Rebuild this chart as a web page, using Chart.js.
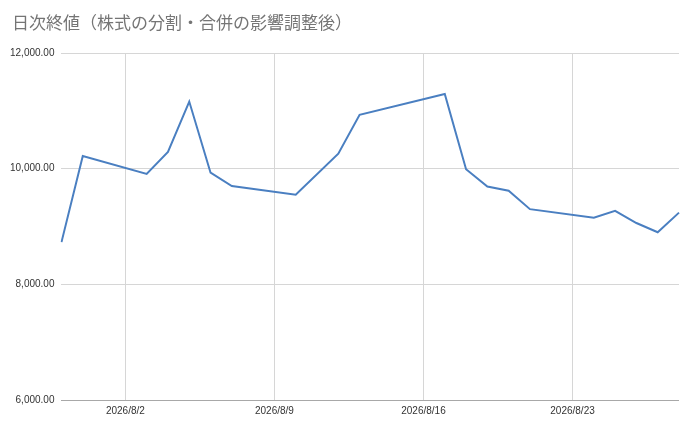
<!DOCTYPE html>
<html>
<head>
<meta charset="utf-8">
<script src="https://cdn.jsdelivr.net/npm/chart.js@4"></script>
<style>
  html, body { margin: 0; padding: 0; background: #fff; }
  #wrap { width: 693px; height: 422px; position: relative; }
</style>
</head>
<body>
<div id="wrap"><canvas id="closeChart"></canvas></div>
<script>
// calendar days on the x axis (weekends / holidays have no close)
var days = ['2026/7/30', '2026/7/31', '2026/8/1', '2026/8/2', '2026/8/3', '2026/8/4', '2026/8/5',
            '2026/8/6', '2026/8/7', '2026/8/8', '2026/8/9', '2026/8/10', '2026/8/11', '2026/8/12',
            '2026/8/13', '2026/8/14', '2026/8/15', '2026/8/16', '2026/8/17', '2026/8/18', '2026/8/19',
            '2026/8/20', '2026/8/21', '2026/8/22', '2026/8/23', '2026/8/24', '2026/8/25', '2026/8/26',
            '2026/8/27', '2026/8/28'];
var closes = [8730, 10220, null, null, 9910, 10290, 11160,
              9930, 9700, null, null, 9550, null, 10260,
              10930, null, null, null, 11290, 9990, 9690,
              9620, 9300, null, null, 9150, 9270, 9060,
              8900, 9240];
var xTickLabels = ['2026/8/2', '2026/8/9', '2026/8/16', '2026/8/23'];
var yTicks = [6000, 8000, 10000, 12000];
var chartTitle = '日次終値（株式の分割・合併の影響調整後）';

// title drawn at a fixed spot top-left, like the sheet chart
var titlePlugin = {
    id: 'sheetTitle',
    afterDraw: function (chart) {
        var c = chart.ctx;
        c.save();
        c.fillStyle = '#757575';
        c.font = "17px 'Noto Sans CJK JP', sans-serif";
        c.textBaseline = 'middle';
        c.textAlign = 'left';
        c.fillText(chartTitle, 12, 23);
        c.restore();
    }
};

var ctx = document.getElementById('closeChart');

var myChart = new Chart(ctx, {
    type: 'line',
    data: {
        labels: days,
        datasets: [{
            label: '終値',
            data: closes,
            borderColor: '#4a7fc1',
            borderWidth: 2,
            pointRadius: 0,
            tension: 0,
            spanGaps: true
        }]
    },
    options: {
        responsive: true,
        maintainAspectRatio: false,
        animation: false,
        layout: {
            padding: { left: 3, right: 14, top: 53, bottom: 0 }
        },
        plugins: {
            legend: { display: false },
            tooltip: { enabled: false },
            title: { display: false }
        },
        scales: {
            x: {
                offset: false,
                border: { display: false },
                grid: {
                    drawTicks: false,
                    color: function (c) {
                        var lbl = days[c.index];
                        return xTickLabels.indexOf(lbl) >= 0 ? '#d6d6d6' : 'rgba(0,0,0,0)';
                    }
                },
                ticks: {
                    autoSkip: false,
                    maxRotation: 0,
                    padding: 5,
                    color: '#333',
                    font: { family: "'Liberation Sans', Arial, sans-serif", size: 10 },
                    callback: function (val, i) {
                        var lbl = days[i];
                        return xTickLabels.indexOf(lbl) >= 0 ? lbl : '';
                    }
                }
            },
            y: {
                min: 6000,
                max: 12000,
                border: { display: false },
                afterBuildTicks: function (axis) {
                    axis.ticks = yTicks.map(function (v) { return { value: v }; });
                },
                grid: {
                    drawTicks: false,
                    color: function (c) {
                        return c.tick && c.tick.value === 6000 ? '#a8a8a8' : '#d6d6d6';
                    }
                },
                ticks: {
                    padding: 7,
                    color: '#333',
                    font: { family: "'Liberation Sans', Arial, sans-serif", size: 10 },
                    callback: function (v) {
                        return v.toLocaleString('en-US', { minimumFractionDigits: 2, maximumFractionDigits: 2 });
                    }
                }
            }
        }
    },
    plugins: [titlePlugin]
});
</script>
</body>
</html>
